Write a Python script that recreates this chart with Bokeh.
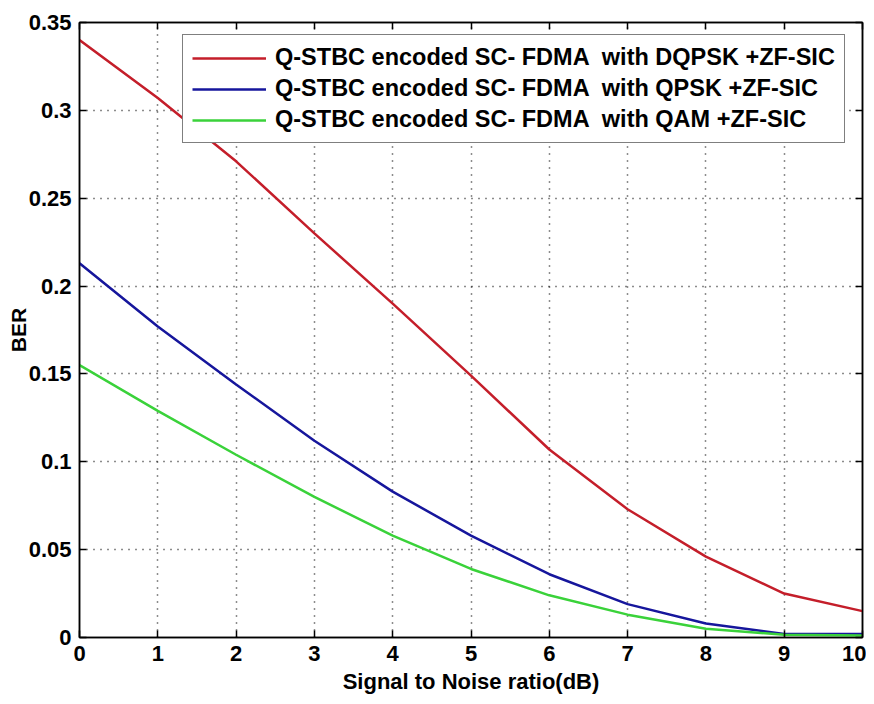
from bokeh.plotting import figure
from bokeh.models import (Range1d, FixedTicker, LinearAxis, CustomJSTickFormatter,
                          Legend, LegendItem)
from bokeh.embed import file_html
from bokeh.resources import INLINE

snr = [0, 1, 2, 3, 4, 5, 6, 7, 8, 9, 10]
ber_dqpsk = [0.340, 0.307, 0.271, 0.230, 0.190, 0.149, 0.107, 0.073, 0.046, 0.025, 0.015]
ber_qpsk = [0.213, 0.177, 0.144, 0.112, 0.083, 0.058, 0.036, 0.019, 0.008, 0.002, 0.002]
ber_qam = [0.155, 0.129, 0.104, 0.080, 0.058, 0.039, 0.024, 0.013, 0.005, 0.0015, 0.0012]

labels = ["Q-STBC encoded SC- FDMA  with DQPSK +ZF-SIC",
          "Q-STBC encoded SC- FDMA  with QPSK +ZF-SIC",
          "Q-STBC encoded SC- FDMA  with QAM +ZF-SIC"]
colors = ["#c41e2a", "#16169c", "#3ad23a"]

x_ticks = [0, 1, 2, 3, 4, 5, 6, 7, 8, 9, 10]
y_ticks = [0, 0.05, 0.1, 0.15, 0.2, 0.25, 0.3, 0.35]

FONT = "Liberation Sans"

p = figure(width=866, height=696, output_backend="svg", toolbar_location=None,
           x_range=Range1d(0, 10), y_range=Range1d(0, 0.35),
           min_border_left=79, min_border_right=4, min_border_top=22, min_border_bottom=59)
p.background_fill_color = "white"
p.border_fill_color = "white"
p.outline_line_color = "black"
p.outline_line_width = 1.5

fmt = CustomJSTickFormatter(code="return String(Math.round(tick*100)/100);")

for ax in p.xaxis:
    ax.ticker = FixedTicker(ticks=x_ticks)
    ax.axis_label = "Signal to Noise ratio(dB)"
for ax in p.yaxis:
    ax.ticker = FixedTicker(ticks=y_ticks)
    ax.axis_label = "BER"
    ax.formatter = fmt

for ax in list(p.xaxis) + list(p.yaxis):
    ax.major_tick_in = 7
    ax.major_tick_out = 0
    ax.minor_tick_in = 0
    ax.minor_tick_out = 0
    ax.major_tick_line_color = "black"
    ax.major_tick_line_width = 1.5
    ax.axis_line_color = "black"
    ax.axis_line_width = 1.5
    ax.major_label_text_font = FONT
    ax.major_label_text_font_style = "bold"
    ax.major_label_text_font_size = "22px"
    ax.major_label_text_color = "black"
    ax.axis_label_text_font = FONT
    ax.axis_label_text_font_style = "bold"
    ax.axis_label_text_color = "black"
    ax.major_label_standoff = 8
p.xaxis.axis_label_text_font_size = "22px"
p.xaxis.axis_label_standoff = 5
p.yaxis.axis_label_text_font_size = "21px"
p.yaxis.axis_label_standoff = -4

for loc in ["right", "above"]:
    a = LinearAxis(ticker=FixedTicker(ticks=y_ticks if loc == "right" else x_ticks),
                   major_label_text_font_size="0px", major_tick_in=7, major_tick_out=0,
                   minor_tick_in=0, minor_tick_out=0, axis_line_width=1.5,
                   major_tick_line_width=1.5, major_label_standoff=0)
    p.add_layout(a, loc)

p.xgrid.ticker = FixedTicker(ticks=x_ticks)
p.ygrid.ticker = FixedTicker(ticks=y_ticks)
p.grid.grid_line_color = "black"
p.grid.grid_line_dash = "1 6"
p.grid.grid_line_width = 1.5
p.grid.grid_line_alpha = 0.9

renderers = []
for ys, c in zip([ber_dqpsk, ber_qpsk, ber_qam], colors):
    r = p.line(snr, ys, line_color=c, line_width=2.5)
    renderers.append(r)

legend = Legend(items=[LegendItem(label=l, renderers=[r]) for l, r in zip(labels, renderers)],
                location=(103, 494))
legend.label_text_font = FONT
legend.label_text_font_style = "bold"
legend.label_text_font_size = "23.5px"
legend.label_text_color = "black"
legend.glyph_width = 74
legend.glyph_height = 26
legend.label_height = 26
legend.label_standoff = 9
legend.padding = 9
legend.spacing = 4
legend.margin = 0
legend.border_line_color = "black"
legend.border_line_width = 1.5
legend.background_fill_color = "white"
legend.background_fill_alpha = 1
p.add_layout(legend, "center")

open("out.html", "w").write(file_html(p, INLINE))
